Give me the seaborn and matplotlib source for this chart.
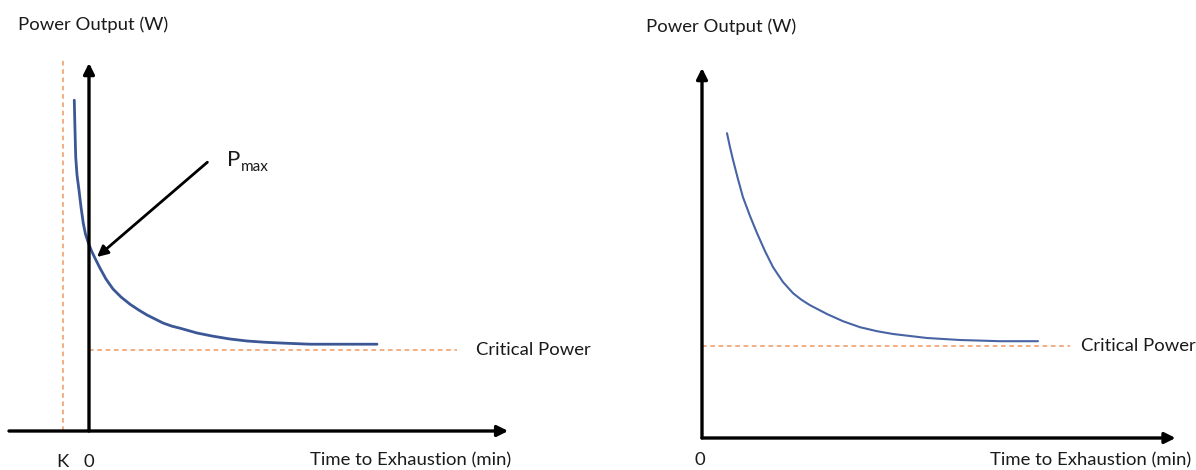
import matplotlib
matplotlib.use("Agg")
import matplotlib.pyplot as plt
import seaborn as sns

# ---- data (time in min, power in W; schematic values) ----
left_time = [-0.92, -0.875, -0.83, -0.75, -0.625, -0.5, -0.36, -0.22, -0.04, 0.16, 0.375, 0.69,
             1.06, 1.5, 2.0, 2.56, 3.125, 3.625, 4.125, 4.625, 5.19, 5.69, 6.75, 7.75, 8.81,
             9.875, 10.94, 11.94, 13.81, 15.69, 18.0]
left_power = [827, 752, 685, 640, 602, 560, 520, 492, 470, 450, 432, 407,
              380, 355, 335, 317, 302, 290, 280, 270, 262, 257, 245, 237, 230,
              225, 222, 220, 217, 217, 217]
left_cp = 202
left_k = -1.6
left_cp_end = 23.0
left_pmax = (0.5, 435)
left_pmax_tail = (7.4, 672)

right_time = [1.5625, 1.75, 1.94, 2.25, 2.56, 3.0, 3.44, 3.94, 4.44, 5.06, 5.69, 6.2, 6.75, 7.81,
              8.81, 9.875, 10.94, 11.94, 13.0, 14.06, 16.125, 18.625, 21.0]
right_power = [762, 727, 695, 647, 602, 555, 512, 467, 427, 390, 362, 346, 332, 310,
               292, 277, 267, 260, 255, 250, 245, 242, 242]
right_cp = 230
right_cp_end = 23.0

sns.set_theme(style="white")
plt.rcParams["font.family"] = ["Lato", "DejaVu Sans"]

W, H = 1196, 470
fig = plt.figure(figsize=(W / 100, H / 100), dpi=100)
fig.patch.set_facecolor("white")

curve_color = "#3b5796"
cp_color = "#f2a779"
text_color = "#1a1a1a"
dash = (0, (2.6, 2.0))


def px(x, y):
    return x / W, 1 - y / H


def axis_arrow(ax, start, end, lw=2.4):
    ax.annotate("", xy=end, xytext=start,
                arrowprops=dict(arrowstyle="-|>", color="black", lw=lw,
                                mutation_scale=16, shrinkA=0, shrinkB=0))


# ---- left panel ----
ax1 = fig.add_axes([0, 0, 0.5, 1])
ax1.set_xlim(-5.5625, 31.8125)
ax1.set_ylim(-97.5, 1077.5)
ax1.axis("off")

ax1.plot([left_k, left_k], [0, 928], ls=dash, color=cp_color, lw=1.3)
ax1.plot([0, left_cp_end], [left_cp, left_cp], ls=dash, color=cp_color, lw=1.3)
sns.lineplot(x=left_time, y=left_power, sort=False, ax=ax1, color=curve_color, lw=2.0)
axis_arrow(ax1, (-5.0, 0), (26.2, 0))
axis_arrow(ax1, (0, 0), (0, 920))
ax1.annotate("", xy=left_pmax, xytext=left_pmax_tail,
             arrowprops=dict(arrowstyle="-|>", color="black", lw=2.0,
                             mutation_scale=16, shrinkA=0, shrinkB=0))

# ---- right panel ----
ax2 = fig.add_axes([0.5, 0, 0.5, 1])
ax2.set_xlim(-6.5, 30.875)
ax2.set_ylim(-80, 1095)
ax2.axis("off")

ax2.plot([0, right_cp_end], [right_cp, right_cp], ls=dash, color=cp_color, lw=1.3)
sns.lineplot(x=right_time, y=right_power, sort=False, ax=ax2, color="#4864a4", lw=1.5)
axis_arrow(ax2, (0, 0), (29.6, 0))
axis_arrow(ax2, (0, 0), (0, 925))

# ---- text ----
fs = 13.3
fig.text(*px(18, 25), "Power Output (W)", fontsize=fs, color=text_color, va="center", ha="left")
fig.text(*px(646, 27), "Power Output (W)", fontsize=fs, color=text_color, va="center", ha="left")
fig.text(*px(227, 160), "P", fontsize=16, color=text_color, va="center", ha="left")
fig.text(*px(241, 167), "max", fontsize=11, color=text_color, va="center", ha="left")
fig.text(*px(476, 350), "Critical Power", fontsize=fs, color=text_color, va="center", ha="left")
fig.text(*px(1081, 346), "Critical Power", fontsize=fs, color=text_color, va="center", ha="left")
fig.text(*px(62, 462), "K", fontsize=fs, color=text_color, va="center", ha="center")
fig.text(*px(89, 462), "0", fontsize=fs, color=text_color, va="center", ha="center")
fig.text(*px(700, 460), "0", fontsize=fs, color=text_color, va="center", ha="center")
fig.text(*px(310, 460), "Time to Exhaustion (min)", fontsize=fs, color=text_color, va="center", ha="left")
fig.text(*px(990, 460), "Time to Exhaustion (min)", fontsize=fs, color=text_color, va="center", ha="left")

fig.savefig("out.png", dpi=100, facecolor="white")
